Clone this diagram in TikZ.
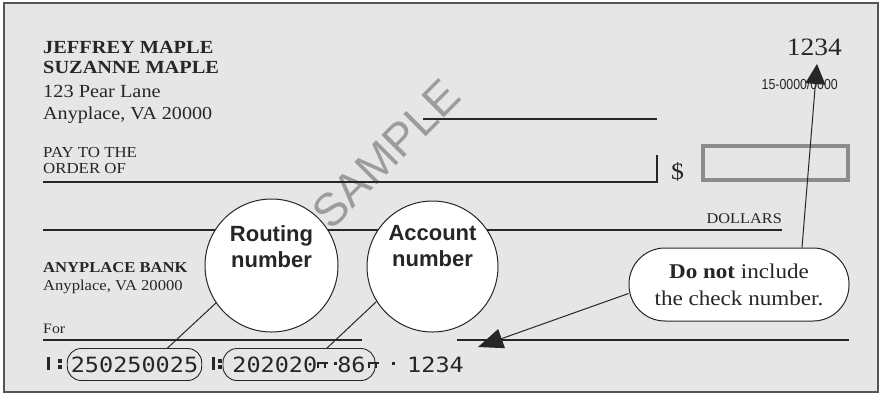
\documentclass[tikz,border=0pt]{standalone}
\usepackage{fontspec}
\setmainfont{Liberation Serif}[FakeStretch=1.1]
\newfontfamily\chksans{Liberation Sans}
\newfontfamily\narrowsans{Liberation Sans}[FakeStretch=0.85]
\newfontfamily\micrfont{DejaVu Sans Mono}[FakeStretch=1.12]
\usetikzlibrary{positioning,arrows.meta}
\definecolor{paper}{HTML}{E6E6E6}
\definecolor{ink}{HTML}{262626}
\definecolor{rim}{HTML}{555555}
\definecolor{stamp}{HTML}{9C9C9C}
\definecolor{boxgray}{HTML}{8C8C8C}

% MICR control symbols
\tikzset{
    pics/transit/.style={code={
        \fill[ink] (0,-15) rectangle (2.6,-2);
        \fill[ink] (#1,-13) rectangle (#1+3.6,-9.4);
        \fill[ink] (#1,-6.6) rectangle (#1+3.6,-3);
    }},
    pics/onus/.style={code={
        \fill[ink] (0,-10.5) rectangle (11,-8);
        \fill[ink] (0,-10.5) rectangle (2.4,-4);
        \fill[ink] (7,-10.5) rectangle (9.4,-4);
        \fill[ink] (#1,-10) rectangle (#1+3.2,-6.8);
    }}
}

\begin{document}
\begin{tikzpicture}[
    x=1pt, y=-1pt,
    txt/.style={anchor=base west, inner sep=0pt, text=ink},
    rule/.style={draw=ink, line width=1.1pt},
    bubble/.style={circle, draw=ink, fill=white, line width=1pt, minimum size=133pt, inner sep=0pt},
    bubbletext/.style={align=center, anchor=north, inner sep=0pt, text=ink, font=\chksans\bfseries\fontsize{22}{26}\selectfont},
    pill/.style={draw=ink, fill=white, line width=1pt, rounded corners=36pt, minimum width=220pt, minimum height=73pt, align=center, text=ink, font=\fontsize{21}{27}\selectfont},
    micr/.style={inner sep=0pt, text=ink, text height=15pt, text depth=0pt, font=\micrfont\fontsize{21}{21}\selectfont},
    micrbox/.style={micr, draw=ink, line width=0.9pt, rounded corners=14pt, minimum height=32pt, inner xsep=3.5pt},
    pointer/.style={draw=ink, line width=1pt}
]
\useasboundingbox (0,0) rectangle (883,394);

% Check face
\draw[draw=rim, fill=paper, line width=1.5pt] (4,3) rectangle (878,392);

% Payer
\node[txt, font=\bfseries\fontsize{18.5}{20}\selectfont] (name1) at (43,53) {JEFFREY MAPLE};
\node[txt, font=\bfseries\fontsize{18.5}{20}\selectfont] (name2) at (43,73) {SUZANNE MAPLE};
\node[txt, font=\fontsize{18.5}{20}\selectfont] (street) at (43,97) {123 Pear Lane};
\node[txt, font=\fontsize{18.3}{20}\selectfont] (town) at (43,119) {Anyplace, VA 20000};

% Check number and fraction
\node[txt, anchor=base east, font=\fontsize{25}{25}\selectfont] (checkno) at (842,55) {1234};
\node[txt, anchor=base east, font=\narrowsans\fontsize{14.5}{15}\selectfont] (fraction) at (838,89) {15-0000/0000};

% Watermark
\node[rotate=45, text=stamp, font=\chksans\fontsize{46}{46}\selectfont] (stampmark) at (386,154) {SAMPLE};

% Date, payee and amount
\draw[rule] (423,119) -- (657,119);
\node[txt, font=\fontsize{15.3}{16}\selectfont] (payto1) at (43,157) {PAY TO THE};
\node[txt, font=\fontsize{15.3}{16}\selectfont] (payto2) at (43,173) {ORDER OF};
\draw[rule] (43,182) -- (657,182) -- (657,155);
\node[txt, font=\fontsize{23.5}{24}\selectfont] (dollar) at (671,179) {\$};
\draw[draw=boxgray, line width=4pt] (703,146) rectangle (848,180);
\draw[rule] (43,230) -- (782,230);
\node[txt, anchor=base east, font=\fontsize{14.8}{15}\selectfont] (dollars) at (782,223) {DOLLARS};

% Bank and memo
\node[txt, font=\bfseries\fontsize{15.1}{16}\selectfont] (bank) at (43,272) {ANYPLACE BANK};
\node[txt, font=\fontsize{15.1}{16}\selectfont] (banktown) at (43,290) {Anyplace, VA 20000};
\node[txt, font=\fontsize{14.4}{15}\selectfont] (memo) at (43,333) {For};
\draw[rule] (43,340) -- (362,340);
\draw[rule] (457,340) -- (849,340);

% MICR line
\pic (transitA) at (47,372) {transit=11};
\node[micrbox, anchor=base] (routingno) at (134.5,372) {250250025};
\pic (transitB) at (212,372) {transit=6};
\node[micrbox, anchor=base, minimum width=152pt] (accountno) at (299,372) {202020\hspace{20pt}86};
\pic (onusA) at (317,372) {onus=17};
\pic (onusB) at (368,372) {onus=24};
\node[micr, anchor=base west] (checkmicr) at (407,372) {1234};

% Callout circles
\node[bubble] (routing) at (271.5,265.5) {};
\node[bubbletext] (routinglbl) at (271.5,225) {Routing\\number};
\node[bubble, minimum size=131pt] (account) at (432.5,266.5) {};
\node[bubbletext] (accountlbl) at (432.5,225) {Account\\number};
\draw[pointer] (routing.214) -- ([xshift=33pt]routingno.north);
\draw[pointer] (account.212) -- ([xshift=28pt]accountno.north);

% Note about the check number
\node[pill] (note) at (739,284.5) {\textbf{Do not} include\\the check number.};
\coordinate (numtip) at (817,64);
\coordinate (micrtip) at (478,347);
\draw[pointer, -{Triangle[length=20pt,width=20pt]}] ([xshift=63pt]note.north) -- (numtip);
\draw[pointer, -{Triangle[length=25pt,width=20pt]}] ([yshift=-9pt]note.west) -- (micrtip);

\end{tikzpicture}
\end{document}
